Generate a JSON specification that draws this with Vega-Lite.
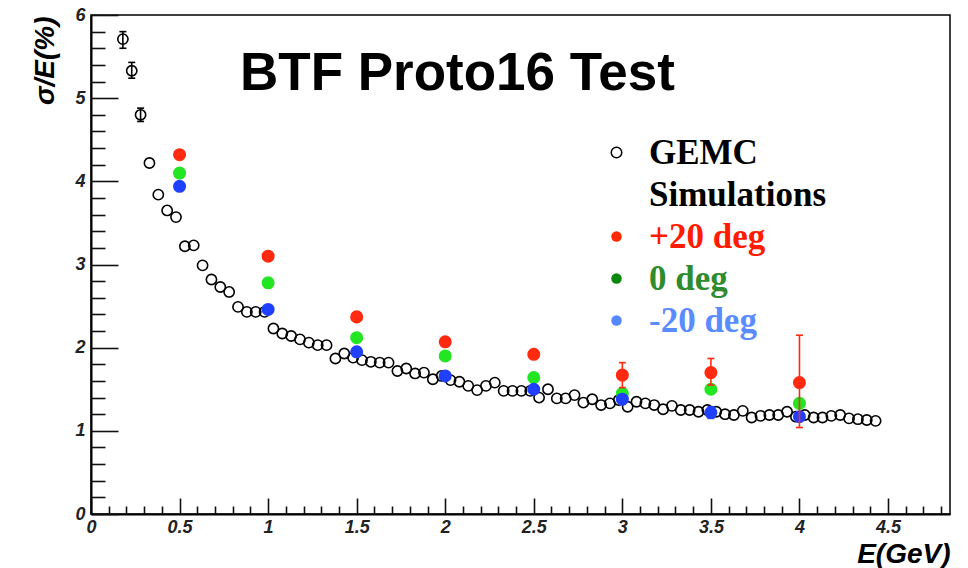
{
  "$schema": "https://vega.github.io/schema/vega-lite/v6.json",
  "width": 859,
  "height": 499,
  "autosize": {"type": "none"},
  "padding": {"left": 91, "top": 15, "right": 18, "bottom": 54},
  "background": "white",
  "title": {
    "text": "BTF Proto16 Test",
    "anchor": "start",
    "frame": "group",
    "dx": 149,
    "offset": -137,
    "baseline": "alphabetic",
    "font": "Liberation Sans",
    "fontSize": 53,
    "fontWeight": "bold",
    "color": "#000000"
  },
  "config": {
    "view": {"stroke": "#000000", "strokeWidth": 1.5},
    "axis": {
      "grid": false,
      "domainColor": "#000000",
      "domainWidth": 2,
      "tickColor": "#111111",
      "tickWidth": 1.6,
      "labelFont": "Liberation Sans",
      "labelFontWeight": "bold",
      "labelFontStyle": "italic",
      "labelFontSize": 18,
      "labelColor": "#222222",
      "labelOverlap": false,
      "labelFlush": false,
      "labelBound": false,
      "titleFont": "Liberation Sans",
      "titleFontWeight": "bold",
      "titleFontStyle": "italic",
      "titleFontSize": 28,
      "titleColor": "#000000"
    }
  },
  "datasets": {
    "pts": [
      {"s": "GEMC Simulations", "E": 0.18, "v": 5.71},
      {"s": "GEMC Simulations", "E": 0.23, "v": 5.33},
      {"s": "GEMC Simulations", "E": 0.28, "v": 4.80},
      {"s": "GEMC Simulations", "E": 0.33, "v": 4.22},
      {"s": "GEMC Simulations", "E": 0.38, "v": 3.84},
      {"s": "GEMC Simulations", "E": 0.43, "v": 3.65},
      {"s": "GEMC Simulations", "E": 0.48, "v": 3.57},
      {"s": "GEMC Simulations", "E": 0.53, "v": 3.22},
      {"s": "GEMC Simulations", "E": 0.58, "v": 3.23},
      {"s": "GEMC Simulations", "E": 0.63, "v": 2.99},
      {"s": "GEMC Simulations", "E": 0.68, "v": 2.82},
      {"s": "GEMC Simulations", "E": 0.73, "v": 2.73},
      {"s": "GEMC Simulations", "E": 0.78, "v": 2.67},
      {"s": "GEMC Simulations", "E": 0.83, "v": 2.49},
      {"s": "GEMC Simulations", "E": 0.88, "v": 2.43},
      {"s": "GEMC Simulations", "E": 0.93, "v": 2.43},
      {"s": "GEMC Simulations", "E": 0.98, "v": 2.43},
      {"s": "GEMC Simulations", "E": 1.03, "v": 2.23},
      {"s": "GEMC Simulations", "E": 1.08, "v": 2.17},
      {"s": "GEMC Simulations", "E": 1.13, "v": 2.14},
      {"s": "GEMC Simulations", "E": 1.18, "v": 2.10},
      {"s": "GEMC Simulations", "E": 1.23, "v": 2.06},
      {"s": "GEMC Simulations", "E": 1.28, "v": 2.03},
      {"s": "GEMC Simulations", "E": 1.33, "v": 2.03},
      {"s": "GEMC Simulations", "E": 1.38, "v": 1.87},
      {"s": "GEMC Simulations", "E": 1.43, "v": 1.93},
      {"s": "GEMC Simulations", "E": 1.48, "v": 1.88},
      {"s": "GEMC Simulations", "E": 1.53, "v": 1.85},
      {"s": "GEMC Simulations", "E": 1.58, "v": 1.83},
      {"s": "GEMC Simulations", "E": 1.63, "v": 1.82},
      {"s": "GEMC Simulations", "E": 1.68, "v": 1.82},
      {"s": "GEMC Simulations", "E": 1.73, "v": 1.72},
      {"s": "GEMC Simulations", "E": 1.78, "v": 1.75},
      {"s": "GEMC Simulations", "E": 1.83, "v": 1.69},
      {"s": "GEMC Simulations", "E": 1.88, "v": 1.70},
      {"s": "GEMC Simulations", "E": 1.93, "v": 1.62},
      {"s": "GEMC Simulations", "E": 1.98, "v": 1.66},
      {"s": "GEMC Simulations", "E": 2.03, "v": 1.61},
      {"s": "GEMC Simulations", "E": 2.08, "v": 1.59},
      {"s": "GEMC Simulations", "E": 2.13, "v": 1.54},
      {"s": "GEMC Simulations", "E": 2.18, "v": 1.49},
      {"s": "GEMC Simulations", "E": 2.23, "v": 1.54},
      {"s": "GEMC Simulations", "E": 2.28, "v": 1.58},
      {"s": "GEMC Simulations", "E": 2.33, "v": 1.48},
      {"s": "GEMC Simulations", "E": 2.38, "v": 1.48},
      {"s": "GEMC Simulations", "E": 2.43, "v": 1.48},
      {"s": "GEMC Simulations", "E": 2.48, "v": 1.48},
      {"s": "GEMC Simulations", "E": 2.53, "v": 1.40},
      {"s": "GEMC Simulations", "E": 2.58, "v": 1.50},
      {"s": "GEMC Simulations", "E": 2.63, "v": 1.39},
      {"s": "GEMC Simulations", "E": 2.68, "v": 1.39},
      {"s": "GEMC Simulations", "E": 2.73, "v": 1.43},
      {"s": "GEMC Simulations", "E": 2.78, "v": 1.34},
      {"s": "GEMC Simulations", "E": 2.83, "v": 1.38},
      {"s": "GEMC Simulations", "E": 2.88, "v": 1.31},
      {"s": "GEMC Simulations", "E": 2.93, "v": 1.33},
      {"s": "GEMC Simulations", "E": 2.98, "v": 1.37},
      {"s": "GEMC Simulations", "E": 3.03, "v": 1.29},
      {"s": "GEMC Simulations", "E": 3.08, "v": 1.35},
      {"s": "GEMC Simulations", "E": 3.13, "v": 1.33},
      {"s": "GEMC Simulations", "E": 3.18, "v": 1.31},
      {"s": "GEMC Simulations", "E": 3.23, "v": 1.26},
      {"s": "GEMC Simulations", "E": 3.28, "v": 1.30},
      {"s": "GEMC Simulations", "E": 3.33, "v": 1.25},
      {"s": "GEMC Simulations", "E": 3.38, "v": 1.25},
      {"s": "GEMC Simulations", "E": 3.43, "v": 1.23},
      {"s": "GEMC Simulations", "E": 3.48, "v": 1.25},
      {"s": "GEMC Simulations", "E": 3.53, "v": 1.23},
      {"s": "GEMC Simulations", "E": 3.58, "v": 1.20},
      {"s": "GEMC Simulations", "E": 3.63, "v": 1.19},
      {"s": "GEMC Simulations", "E": 3.68, "v": 1.24},
      {"s": "GEMC Simulations", "E": 3.73, "v": 1.16},
      {"s": "GEMC Simulations", "E": 3.78, "v": 1.18},
      {"s": "GEMC Simulations", "E": 3.83, "v": 1.19},
      {"s": "GEMC Simulations", "E": 3.88, "v": 1.19},
      {"s": "GEMC Simulations", "E": 3.93, "v": 1.23},
      {"s": "GEMC Simulations", "E": 3.98, "v": 1.17},
      {"s": "GEMC Simulations", "E": 4.03, "v": 1.19},
      {"s": "GEMC Simulations", "E": 4.08, "v": 1.16},
      {"s": "GEMC Simulations", "E": 4.13, "v": 1.16},
      {"s": "GEMC Simulations", "E": 4.18, "v": 1.18},
      {"s": "GEMC Simulations", "E": 4.23, "v": 1.19},
      {"s": "GEMC Simulations", "E": 4.28, "v": 1.15},
      {"s": "GEMC Simulations", "E": 4.33, "v": 1.14},
      {"s": "GEMC Simulations", "E": 4.38, "v": 1.13},
      {"s": "GEMC Simulations", "E": 4.43, "v": 1.12},
      {"s": "+20 deg", "E": 0.5, "v": 4.32},
      {"s": "+20 deg", "E": 1.0, "v": 3.10},
      {"s": "+20 deg", "E": 1.5, "v": 2.37},
      {"s": "+20 deg", "E": 2.0, "v": 2.07},
      {"s": "+20 deg", "E": 2.5, "v": 1.92},
      {"s": "+20 deg", "E": 3.0, "v": 1.67},
      {"s": "+20 deg", "E": 3.5, "v": 1.70},
      {"s": "+20 deg", "E": 4.0, "v": 1.58},
      {"s": "0 deg", "E": 0.5, "v": 4.10},
      {"s": "0 deg", "E": 1.0, "v": 2.78},
      {"s": "0 deg", "E": 1.5, "v": 2.12},
      {"s": "0 deg", "E": 2.0, "v": 1.90},
      {"s": "0 deg", "E": 2.5, "v": 1.64},
      {"s": "0 deg", "E": 3.0, "v": 1.45},
      {"s": "0 deg", "E": 3.5, "v": 1.50},
      {"s": "0 deg", "E": 4.0, "v": 1.33},
      {"s": "-20 deg", "E": 0.5, "v": 3.94},
      {"s": "-20 deg", "E": 1.0, "v": 2.46},
      {"s": "-20 deg", "E": 1.5, "v": 1.95},
      {"s": "-20 deg", "E": 2.0, "v": 1.66},
      {"s": "-20 deg", "E": 2.5, "v": 1.50},
      {"s": "-20 deg", "E": 3.0, "v": 1.38},
      {"s": "-20 deg", "E": 3.5, "v": 1.22},
      {"s": "-20 deg", "E": 4.0, "v": 1.17}
    ],
    "err": [
      {"s": "GEMC Simulations", "E": 0.18, "v": 5.60, "v2": 5.80},
      {"s": "GEMC Simulations", "E": 0.23, "v": 5.24, "v2": 5.43},
      {"s": "GEMC Simulations", "E": 0.28, "v": 4.72, "v2": 4.88},
      {"s": "+20 deg", "E": 3.0, "v": 1.52, "v2": 1.82},
      {"s": "+20 deg", "E": 3.5, "v": 1.55, "v2": 1.87},
      {"s": "+20 deg", "E": 4.0, "v": 1.04, "v2": 2.15},
      {"s": "-20 deg", "E": 3.0, "v": 1.32, "v2": 1.43},
      {"s": "-20 deg", "E": 3.5, "v": 1.15, "v2": 1.29}
    ]
  },
  "encoding": {
    "x": {
      "field": "E", "type": "quantitative",
      "scale": {"domain": [0, 4.85], "nice": false, "zero": false},
      "axis": {
        "title": "E(GeV)",
        "values": [0, 0.1, 0.2, 0.3, 0.4, 0.5, 0.6, 0.7, 0.8, 0.9, 1, 1.1, 1.2, 1.3, 1.4, 1.5, 1.6, 1.7, 1.8, 1.9, 2, 2.1, 2.2, 2.3, 2.4, 2.5, 2.6, 2.7, 2.8, 2.9, 3, 3.1, 3.2, 3.3, 3.4, 3.5, 3.6, 3.7, 3.8, 3.9, 4, 4.1, 4.2, 4.3, 4.4, 4.5, 4.6, 4.7, 4.8],
        "format": "~g",
        "labelExpr": "abs(datum.value * 2 - round(datum.value * 2)) < 0.001 ? datum.label : ''",
        "tickSize": {"condition": {"test": "abs(datum.value * 2 - round(datum.value * 2)) < 0.001", "value": -16}, "value": -8},
        "labelPadding": 20,
        "labelBaseline": "top",
        "titleAnchor": "end",
        "titleAlign": "right",
        "titleBaseline": "alphabetic",
        "titleX": 859,
        "titleY": 48
      }
    },
    "y": {
      "field": "v", "type": "quantitative",
      "scale": {"domain": [0, 6], "nice": false, "zero": false},
      "axis": {
        "title": "σ/E(%)",
        "values": [0, 0.2, 0.4, 0.6, 0.8, 1, 1.2, 1.4, 1.6, 1.8, 2, 2.2, 2.4, 2.6, 2.8, 3, 3.2, 3.4, 3.6, 3.8, 4, 4.2, 4.4, 4.6, 4.8, 5, 5.2, 5.4, 5.6, 5.8, 6],
        "format": "~g",
        "labelExpr": "abs(datum.value - round(datum.value)) < 0.001 ? datum.label : ''",
        "tickSize": {"condition": {"test": "abs(datum.value - round(datum.value)) < 0.001", "value": -27}, "value": -14},
        "labelPadding": 33,
        "titleAnchor": "end",
        "titleAlign": "right",
        "titleBaseline": "alphabetic",
        "titleAngle": -90,
        "titleX": -38,
        "titleY": 1
      }
    }
  },
  "layer": [
    {
      "data": {"name": "pts"},
      "transform": [{"filter": "datum.s === 'GEMC Simulations'"}],
      "mark": {"type": "point", "shape": "circle", "filled": false, "size": 105, "strokeWidth": 1.6, "opacity": 1},
      "encoding": {
        "color": {
          "field": "s", "type": "nominal",
          "scale": {"domain": ["GEMC Simulations", "+20 deg", "0 deg", "-20 deg"], "range": ["#000000", "#ff2a10", "#22e622", "#2040ff"]},
          "legend": null
        }
      }
    },
    {
      "data": {"name": "pts"},
      "transform": [{"filter": "datum.s !== 'GEMC Simulations'"}],
      "mark": {"type": "point", "shape": "circle", "filled": true, "size": 170, "opacity": 1},
      "encoding": {
        "color": {"field": "s", "type": "nominal", "legend": null}
      }
    },
    {
      "data": {"name": "err"},
      "mark": {"type": "rule", "strokeWidth": 1.6},
      "encoding": {
        "y2": {"field": "v2"},
        "color": {"field": "s", "type": "nominal", "legend": null}
      }
    },
    {
      "data": {"name": "err"},
      "transform": [{"fold": ["v", "v2"], "as": ["k", "v"]}],
      "mark": {"type": "tick", "orient": "horizontal", "size": 7, "thickness": 1.6, "opacity": 1},
      "encoding": {
        "color": {"field": "s", "type": "nominal", "legend": null}
      }
    },
    {
      "data": {"name": "pts"},
      "transform": [{"filter": "false"}],
      "mark": {"type": "point", "shape": "circle", "filled": true, "opacity": 1, "strokeWidth": 1.5},
      "encoding": {
        "fill": {
          "field": "s", "type": "nominal",
          "scale": {"domain": ["GEMC", "Simulations", "+20 deg", "0 deg", "-20 deg"], "range": ["#ffffff", "transparent", "#ff2a00", "#0b880b", "#5588ff"]},
          "legend": {
            "orient": "none",
            "legendX": 508,
            "legendY": 120,
            "title": null,
            "labelFont": "Liberation Serif",
            "labelFontSize": 35,
            "labelFontWeight": "bold",
            "labelLimit": 400,
            "labelOffset": 15,
            "labelBaseline": "middle",
            "labelColor": {"expr": "datum.value === '+20 deg' ? '#ff1a00' : datum.value === '0 deg' ? '#2e8b2e' : datum.value === '-20 deg' ? '#5b8cff' : '#000000'"},
            "symbolType": "circle",
            "symbolSize": 110,
            "symbolStrokeWidth": 1.5,
            "symbolOpacity": 1,
            "rowPadding": 6,
            "encode": {
              "labels": {
                "fill": {"value": {"expr": "datum.value === '+20 deg' ? '#ff1a00' : datum.value === '0 deg' ? '#2e8b2e' : datum.value === '-20 deg' ? '#5b8cff' : '#000000'"}}
              }
            }
          }
        },
        "stroke": {
          "field": "s", "type": "nominal",
          "scale": {"domain": ["GEMC", "Simulations", "+20 deg", "0 deg", "-20 deg"], "range": ["#000000", "transparent", "transparent", "transparent", "transparent"]},
          "legend": {
            "orient": "none",
            "legendX": 508,
            "legendY": 120,
            "title": null,
            "labelFont": "Liberation Serif",
            "labelFontSize": 35,
            "labelFontWeight": "bold",
            "labelLimit": 400,
            "labelOffset": 15,
            "labelBaseline": "middle",
            "labelColor": {"expr": "datum.value === '+20 deg' ? '#ff1a00' : datum.value === '0 deg' ? '#2e8b2e' : datum.value === '-20 deg' ? '#5b8cff' : '#000000'"},
            "symbolType": "circle",
            "symbolSize": 110,
            "symbolStrokeWidth": 1.5,
            "symbolOpacity": 1,
            "rowPadding": 6,
            "encode": {
              "labels": {
                "fill": {"value": {"expr": "datum.value === '+20 deg' ? '#ff1a00' : datum.value === '0 deg' ? '#2e8b2e' : datum.value === '-20 deg' ? '#5b8cff' : '#000000'"}}
              }
            }
          }
        }
      }
    }
  ]
}
